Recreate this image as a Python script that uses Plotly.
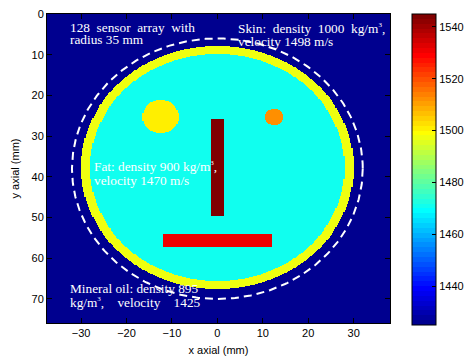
import numpy as np
import plotly.graph_objects as go

# ---------------- data ----------------
# sound speeds (m/s) of each tissue / inclusion
oil_velocity = 1425
skin_velocity = 1498
fat_velocity = 1470
left_inclusion_velocity = 1500
right_inclusion_velocity = 1512
vertical_bar_velocity = 1545
horizontal_bar_velocity = 1530

# phantom geometry (mm): circles = (cx, cy, r), rectangles = (x0, x1, y0, y1)
skin_circle = (0.0, 37.75, 30.0)
fat_circle = (0.0, 37.75, 28.0)
left_inclusion = (-12.5, 25.25, 4.0)
right_inclusion = (12.5, 25.25, 2.0)
vertical_bar = (-1.5, 1.5, 25.75, 49.75)
horizontal_bar = (-12.0, 12.0, 54.0, 57.25)
sensor_ring = (0.0, 38.0, 32.0)

x_ticks = [-30, -20, -10, 0, 10, 20, 30]
y_ticks = [0, 10, 20, 30, 40, 50, 60, 70]
cbar_ticks = [1440, 1460, 1480, 1500, 1520, 1540]

x_range = [-37.5, 38.0]
y_range = [0.0, 75.9]
cell = 0.25

# ---------------- grid ----------------
xc = np.arange(x_range[0] + cell / 2, x_range[1], cell)
yc = np.arange(y_range[0] + cell / 2, y_range[1], cell)
X, Y = np.meshgrid(xc, yc)
Z = np.full(X.shape, float(oil_velocity))


def in_circle(c):
    return (X - c[0]) ** 2 + (Y - c[1]) ** 2 <= c[2] ** 2


def in_rect(r):
    return (X >= r[0]) & (X <= r[1]) & (Y >= r[2]) & (Y <= r[3])


Z[in_circle(skin_circle)] = skin_velocity
Z[in_circle(fat_circle)] = fat_velocity
Z[in_circle(left_inclusion)] = left_inclusion_velocity
Z[in_circle(right_inclusion)] = right_inclusion_velocity
Z[in_rect(vertical_bar)] = vertical_bar_velocity
Z[in_rect(horizontal_bar)] = horizontal_bar_velocity

# ---------------- MATLAB jet(64) colormap ----------------
m = 64
n = 16
u = np.concatenate([np.arange(1, n + 1) / n, np.ones(n - 1), np.arange(n, 0, -1) / n])
g = (n // 2) + np.arange(1, len(u) + 1)
r = g + n
b = g - n
J = np.zeros((m, 3))
J[r[r <= m] - 1, 0] = u[r <= m]
J[g[g <= m] - 1, 1] = u[g <= m]
J[b[b >= 1] - 1, 2] = u[b >= 1]
colorscale = []
for i in range(m):
    c = "rgb(%d,%d,%d)" % tuple(np.round(J[i] * 255).astype(int))
    colorscale.append([i / m, c])
    colorscale.append([(i + 1) / m, c])

# ---------------- figure ----------------
W, H = 467, 356
L, T, PW, PH = 47, 14, 343, 309

fig = go.Figure()
fig.add_trace(go.Heatmap(
    x=xc, y=yc, z=Z, zmin=oil_velocity, zmax=vertical_bar_velocity,
    colorscale=colorscale, zsmooth=False, hoverinfo="skip",
    colorbar=dict(
        x=(412 - L) / PW, xanchor="left", xpad=0, ypad=0,
        y=1, yanchor="top", len=311 / PH, lenmode="fraction",
        thickness=24, thicknessmode="pixels",
        outlinewidth=1, outlinecolor="black",
        tickvals=cbar_ticks, ticks="inside", ticklen=4, tickcolor="black",
        tickfont=dict(family="Liberation Sans, Arial", size=11, color="black"),
    ),
))

t = np.linspace(0, 2 * np.pi, 400)
fig.add_trace(go.Scatter(
    x=sensor_ring[0] + sensor_ring[2] * np.cos(t),
    y=sensor_ring[1] + sensor_ring[2] * np.sin(t),
    mode="lines", line=dict(color="white", width=2, dash="8px,5px"),
    hoverinfo="skip", showlegend=False,
))

NB = "\u00a0"
SUP3 = "<sup><span style='font-size:7px'>3</span></sup>"
lines = [
    ("128" + NB * 2 + "sensor" + NB * 2 + "array" + NB * 2 + "with", 67.7, 27.0),
    ("radius 35 mm", 67.7, 39.5),
    ("Skin:" + NB * 2 + "density" + NB * 2 + "1000" + NB * 2 + "kg/m" + SUP3 + ",", 235.7, 28.5),
    ("velocity 1498 m/s", 235.7, 41.5),
    ("Fat: density 900 kg/m" + SUP3 + ",", 91.7, 166.5),
    ("velocity 1470 m/s", 91.7, 180.5),
    ("Mineral oil: density 895", 67.7, 288.0),
    ("kg/m" + SUP3 + "," + NB * 4 + "velocity" + NB * 4 + "1425", 67.7, 302.0),
]
for txt, px, py in lines:
    fig.add_annotation(
        text=txt, xref="paper", yref="paper",
        x=(px - L) / PW, y=(T + PH - py) / PH,
        xanchor="left", yanchor="middle", showarrow=False,
        font=dict(family="Liberation Serif, Times New Roman", size=13.3, color="white"),
    )

axis_font = dict(family="Liberation Sans, Arial", size=11, color="black")
fig.update_xaxes(
    range=x_range, tickvals=x_ticks, ticks="inside", ticklen=5, tickcolor="black",
    showline=True, linecolor="black", linewidth=1, mirror="ticks",
    showgrid=False, zeroline=False, tickfont=axis_font, automargin=False,
    title=dict(text="x axial (mm)", font=axis_font, standoff=9),
)
fig.update_yaxes(
    range=[y_range[1], y_range[0]], tickvals=y_ticks, ticks="inside", ticklen=5,
    tickcolor="black", showline=True, linecolor="black", linewidth=1, mirror="ticks",
    showgrid=False, zeroline=False, tickfont=axis_font, automargin=False,
    title=dict(text="y axial (mm)", font=axis_font, standoff=9),
)
fig.update_layout(
    width=W, height=H, autosize=False,
    margin=dict(l=L, r=W - L - PW, t=T, b=H - T - PH, pad=0, autoexpand=False),
    paper_bgcolor="white", plot_bgcolor="white", showlegend=False,
)
fig.write_html("out.html", config={"displayModeBar": False},
               post_script="document.body.style.margin='0';")
